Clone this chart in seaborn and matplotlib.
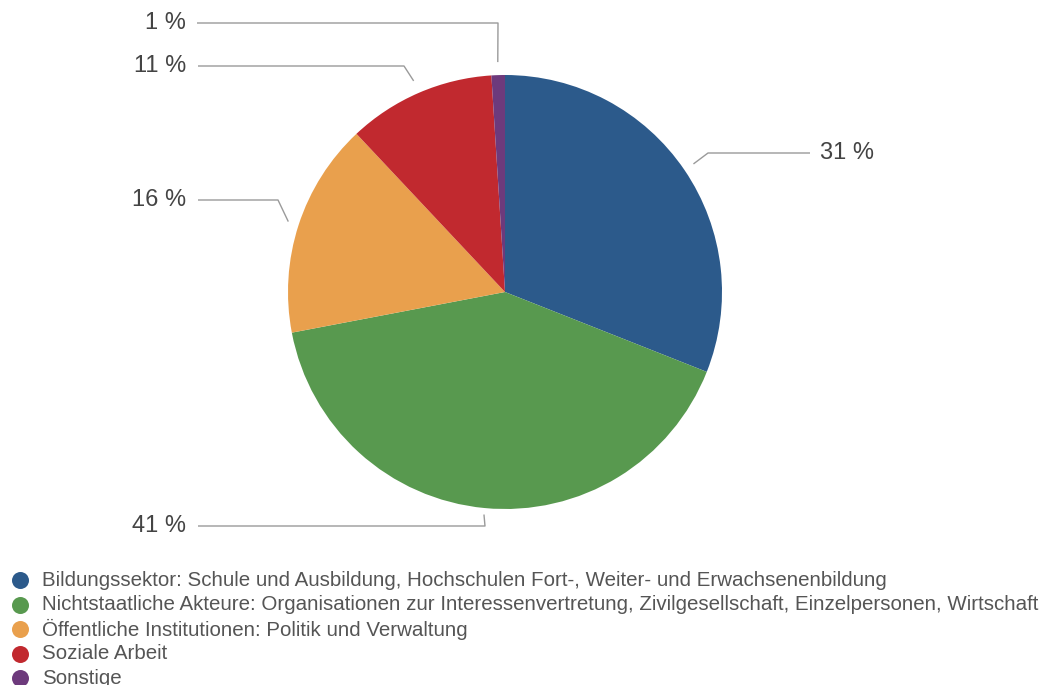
import numpy as np
import matplotlib
matplotlib.use("Agg")
import matplotlib.pyplot as plt
import seaborn as sns

# data
categories = [
    "Bildungssektor: Schule und Ausbildung, Hochschulen Fort-, Weiter- und Erwachsenenbildung",
    "Nichtstaatliche Akteure: Organisationen zur Interessenvertretung, Zivilgesellschaft, Einzelpersonen, Wirtschaft",
    "Öffentliche Institutionen: Politik und Verwaltung",
    "Soziale Arbeit",
    "Sonstige",
]
shares = [31, 41, 16, 11, 1]
colors = ["#2c5a8b", "#58994f", "#e9a04d", "#c1292f", "#6d3a7c"]

sns.set_theme(style="white")
plt.rcParams["font.family"] = ["Liberation Sans", "DejaVu Sans"]
palette = sns.color_palette(colors)

W, H = 1046, 685
fig = plt.figure(figsize=(W / 100, H / 100), dpi=100)
ax = fig.add_axes([0, 0, 1, 1])

def py(y):
    # pixel row (from top) -> data y
    return H - y

cx, cy, R = 505, 292, 217
wedges, _ = ax.pie(shares, colors=palette, startangle=90, counterclock=False,
                   center=(cx, py(cy)), radius=R,
                   wedgeprops=dict(linewidth=0))

# label layout
lab_side = ["right", "left", "left", "left", "left"]
lab_y = [153, 526, 200, 66, 23]
elbow_x = [708, 485, 278, 404, 498]
anchor_r = [1.05, 1.03, 1.05, 1.06, 1.06]
line_end = [810, 198, 198, 198, 197]
text_x = [820, 186, 186, 186, 186]

for i, w in enumerate(wedges):
    mid = np.deg2rad((w.theta1 + w.theta2) / 2)
    a_x = cx + R * anchor_r[i] * np.cos(mid)
    a_y = py(cy) + R * anchor_r[i] * np.sin(mid)
    xs = [a_x, elbow_x[i], line_end[i]]
    ys = [a_y, py(lab_y[i]), py(lab_y[i])]
    ax.plot(xs, ys, color="#9a9a9a", lw=1.0, solid_capstyle="butt")
    ha = "left" if lab_side[i] == "right" else "right"
    ax.text(text_x[i], py(lab_y[i]), f"{shares[i]} %", ha=ha, va="center",
            fontsize=17, color="#444444")

# legend
for i, (lab, col) in enumerate(zip(categories, palette)):
    yy = py(580 + i * 24.5)
    ax.scatter([20], [yy], s=150, color=col, linewidths=0)
    ax.text(42, yy, lab, ha="left", va="center", fontsize=14.8, color="#555555")

ax.set_xlim(0, W)
ax.set_ylim(0, H)
ax.set_aspect("auto")
ax.axis("off")

fig.savefig("out.png", dpi=100, facecolor="white")
